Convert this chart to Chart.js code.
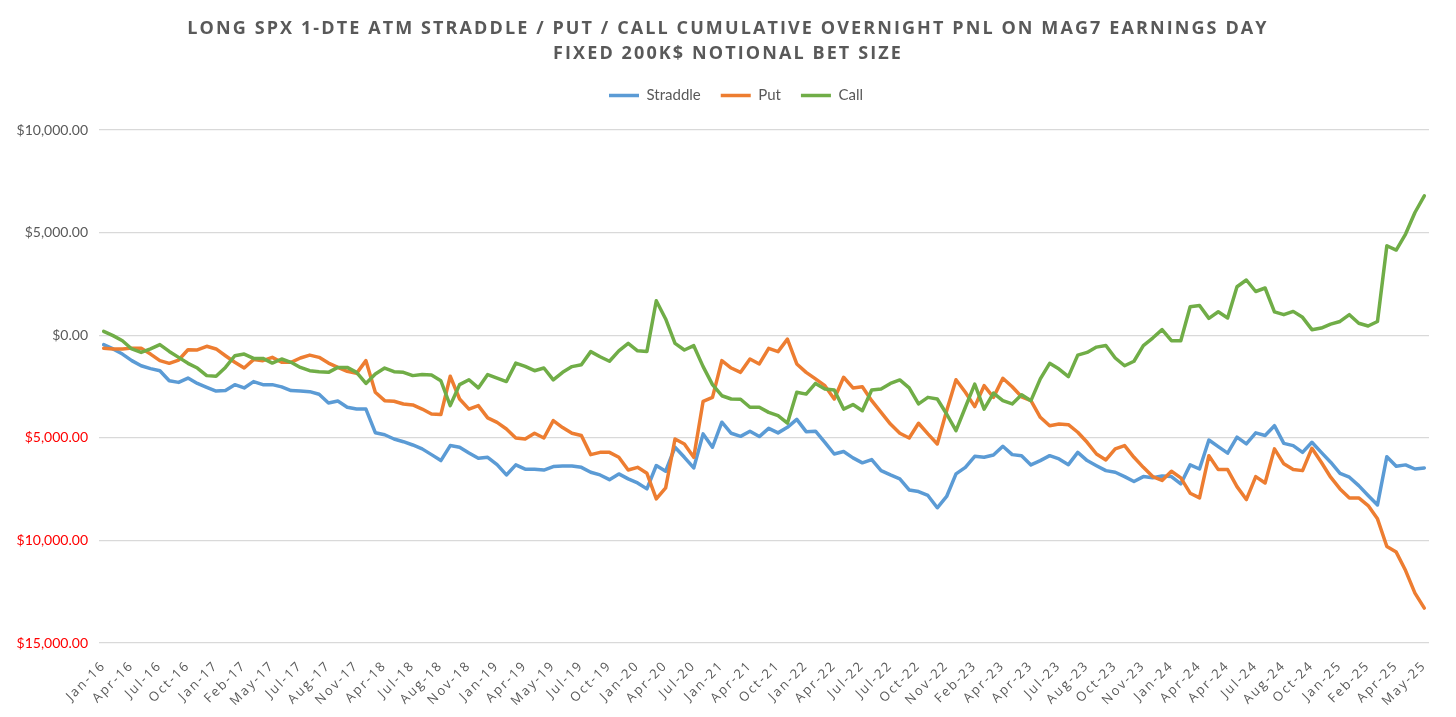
<!DOCTYPE html>
<html>
<head>
<meta charset="utf-8">
<title>Mag7 earnings overnight PnL</title>
<script src="https://cdn.jsdelivr.net/npm/chart.js@4.4.0/dist/chart.umd.min.js"></script>
<style>
    html, body { margin: 0; padding: 0; background: #fff; }
    #wrap { position: relative; width: 1456px; height: 717px; }
    #myChart { position: absolute; left: 0; top: 0; }
    #title {
        position: absolute; top: 15px; left: 0; width: 100%;
        text-align: center;
        font-family: 'Open Sans', sans-serif;
        font-weight: 700;
        font-size: 18px;
        line-height: 25px;
        letter-spacing: 2.1px;
        color: #595959;
        z-index: 2;
    }
</style>
</head>
<body>
<div id="wrap">
    <canvas id="myChart" width="1456" height="717"></canvas>
    <div id="title">LONG SPX 1-DTE ATM STRADDLE / PUT / CALL CUMULATIVE OVERNIGHT PNL ON MAG7 EARNINGS DAY<br>FIXED 200K$ NOTIONAL BET SIZE</div>
</div>
<script>
// Axis labels shown under every third earnings event
const tickLabels = ['Jan-16', 'Apr-16', 'Jul-16', 'Oct-16', 'Jan-17', 'Feb-17', 'May-17', 'Jul-17',
    'Aug-17', 'Nov-17', 'Apr-18', 'Jul-18', 'Aug-18', 'Nov-18', 'Jan-19', 'Apr-19',
    'May-19', 'Jul-19', 'Oct-19', 'Jan-20', 'Apr-20', 'Jul-20', 'Jan-21', 'Apr-21',
    'Oct-21', 'Jan-22', 'Apr-22', 'Jul-22', 'Jul-22', 'Oct-22', 'Nov-22', 'Feb-23',
    'Apr-23', 'Apr-23', 'Jul-23', 'Aug-23', 'Oct-23', 'Nov-23', 'Jan-24', 'Apr-24',
    'Apr-24', 'Jul-24', 'Aug-24', 'Oct-24', 'Jan-25', 'Feb-25', 'Apr-25', 'May-25'];

// Cumulative PnL ($) per earnings event
const straddle = [
    -460, -670, -920, -1240, -1490, -1630, -1730, -2220, -2300, -2090,
    -2350, -2540, -2720, -2690, -2410, -2570, -2260, -2410, -2410, -2520,
    -2700, -2720, -2750, -2880, -3300, -3210, -3510, -3600, -3600, -4750,
    -4850, -5060, -5190, -5350, -5540, -5820, -6110, -5380, -5460, -5740,
    -6000, -5950, -6310, -6810, -6320, -6530, -6530, -6570, -6400, -6370,
    -6370, -6440, -6680, -6810, -7040, -6760, -7000, -7200, -7490, -6350,
    -6630, -5460, -5950, -6470, -4810, -5460, -4240, -4780, -4930, -4680,
    -4940, -4540, -4760, -4490, -4100, -4700, -4680, -5220, -5790, -5670,
    -5980, -6220, -6060, -6600, -6810, -7000, -7540, -7620, -7810, -8410,
    -7860, -6760, -6440, -5900, -5950, -5840, -5410, -5820, -5870, -6320,
    -6110, -5870, -6030, -6310, -5710, -6110, -6360, -6600, -6680, -6890,
    -7130, -6890, -6950, -6860, -6890, -7250, -6320, -6520, -5110, -5430,
    -5750, -4970, -5300, -4760, -4890, -4410, -5270, -5380, -5710, -5220,
    -5710, -6190, -6730, -6920, -7330, -7810, -8270, -5920, -6390, -6320,
    -6520, -6470
];
const put = [
    -640, -670, -670, -630, -640, -920, -1240, -1370, -1210, -710,
    -720, -540, -670, -1000, -1320, -1600, -1190, -1240, -1080, -1320,
    -1320, -1110, -970, -1080, -1360, -1570, -1760, -1860, -1240, -2780,
    -3190, -3220, -3350, -3400, -3600, -3840, -3870, -2000, -3110, -3600,
    -3430, -4030, -4250, -4570, -5010, -5060, -4780, -5010, -4160, -4500,
    -4780, -4890, -5820, -5710, -5710, -5950, -6570, -6440, -6730, -7980,
    -7440, -5060, -5300, -5950, -3220, -3030, -1240, -1600, -1810, -1160,
    -1400, -640, -800, -190, -1400, -1810, -2130, -2460, -3110, -2050,
    -2570, -2510, -3190, -3760, -4330, -4780, -5010, -4290, -4810, -5300,
    -3680, -2170, -2780, -3480, -2460, -3030, -2100, -2510, -3000, -3190,
    -4000, -4410, -4330, -4360, -4730, -5220, -5790, -6080, -5540, -5380,
    -5950, -6440, -6890, -7080, -6630, -6950, -7700, -7930, -5870, -6550,
    -6550, -7380, -8010, -6890, -7200, -5540, -6270, -6550, -6600, -5510,
    -6190, -6920, -7490, -7930, -7930, -8300, -8950, -10300, -10570, -11470,
    -12570, -13300
];
const call = [
    190, -20, -270, -670, -840, -670, -460, -790, -1080, -1370,
    -1600, -1970, -2000, -1570, -1000, -920, -1130, -1130, -1360, -1160,
    -1320, -1570, -1730, -1780, -1810, -1570, -1570, -1810, -2350, -1890,
    -1600, -1780, -1810, -1970, -1920, -1940, -2220, -3430, -2410, -2170,
    -2570, -1920, -2090, -2260, -1360, -1520, -1730, -1600, -2180, -1810,
    -1530, -1440, -800, -1050, -1270, -760, -400, -760, -790, 1680,
    790, -400, -720, -510, -1530, -2410, -2950, -3110, -3120, -3510,
    -3510, -3760, -3920, -4290, -2780, -2870, -2350, -2620, -2670, -3600,
    -3380, -3680, -2670, -2620, -2350, -2180, -2570, -3350, -3030, -3110,
    -3840, -4650, -3510, -2380, -3600, -2820, -3190, -3350, -2900, -3190,
    -2130, -1370, -1650, -2020, -970, -840, -580, -500, -1110, -1490,
    -1270, -510, -140, 270, -270, -270, 1390, 1450, 820, 1140,
    840, 2360, 2690, 2130, 2300, 1140, 1000, 1160, 870, 270,
    350, 540, 670, 1000, 580, 450, 670, 4360, 4150, 4930,
    5980, 6790
];

// one category per event, grouped under the label shown every third step
const categories = straddle.map((_, i) => tickLabels[Math.floor(i / 3)]);

const textGray = '#595959';
const gridColor = '#D9D9D9';
const lineWidth = 3.5;

function formatDollar(v) {
    return '$' + Math.abs(v).toLocaleString('en-US', { minimumFractionDigits: 2, maximumFractionDigits: 2 });
}

// Excel spreads the rotated category labels a bit, canvas needs letterSpacing for that
const spacedXLabels = {
    id: 'spacedXLabels',
    beforeDraw(chart) {
        const scale = chart.scales.x;
        if (scale._spaced) return;
        const orig = scale.drawLabels;
        scale.drawLabels = function (area) {
            this.ctx.save();
            this.ctx.letterSpacing = '2px';
            orig.call(this, area);
            this.ctx.restore();
        };
        scale._spaced = true;
    }
};

// extra room under the legend, and centre it on the whole canvas
const legendBox = {
    id: 'legendBox',
    beforeLayout(chart) {
        const lg = chart.legend;
        if (!lg || lg._grown) return;
        const fit = lg.fit;
        lg.fit = function () {
            fit.call(this);
            this.height += 17;
        };
        lg._grown = true;
    },
    afterLayout(chart) {
        const lg = chart.legend;
        lg.left = 16;
        lg.right = chart.width;
        lg.width = lg.right - lg.left;
    }
};

const ctx = document.getElementById('myChart').getContext('2d');
const myChart = new Chart(ctx, {
    type: 'line',
    data: {
        labels: categories,
        datasets: [
            { label: 'Straddle', data: straddle, borderColor: '#5B9BD5', backgroundColor: '#5B9BD5', order: 2 },
            { label: 'Put', data: put, borderColor: '#ED7D31', backgroundColor: '#ED7D31', order: 1 },
            { label: 'Call', data: call, borderColor: '#70AD47', backgroundColor: '#70AD47', order: 0 }
        ]
    },
    options: {
        responsive: false,
        animation: false,
        layout: { padding: { top: 68, right: 27, bottom: 0, left: 0 } },
        elements: {
            line: { borderWidth: lineWidth, tension: 0, borderJoinStyle: 'round', borderCapStyle: 'round', fill: false },
            point: { radius: 0, hoverRadius: 0 }
        },
        plugins: {
            title: { display: false },
            tooltip: { enabled: false },
            legend: {
                display: true,
                position: 'top',
                labels: {
                    usePointStyle: true,
                    pointStyleWidth: 30,
                    padding: 20,
                    color: textGray,
                    font: { family: 'Lato', size: 15 },
                    generateLabels: chart => chart.data.datasets.map((ds, i) => ({
                        text: ds.label,
                        strokeStyle: ds.borderColor,
                        fillStyle: ds.borderColor,
                        lineWidth: lineWidth,
                        pointStyle: 'line',
                        fontColor: textGray,
                        hidden: false,
                        datasetIndex: i
                    }))
                }
            }
        },
        scales: {
            x: {
                offset: true,
                grid: { display: false, drawTicks: false },
                border: { display: false },
                ticks: {
                    autoSkip: false,
                    maxRotation: 45,
                    minRotation: 45,
                    padding: 15,
                    color: textGray,
                    font: { family: 'Open Sans', size: 13 },
                    callback: function (value, index) {
                        return index % 3 === 0 ? this.getLabelForValue(value) : '';
                    }
                },
                afterFit: s => { s.height = 74; }
            },
            y: {
                min: -15000,
                max: 10000,
                grid: { color: gridColor, lineWidth: 1.3, drawTicks: false },
                border: { display: false },
                ticks: {
                    stepSize: 5000,
                    padding: 11,
                    color: c => (c.tick && c.tick.value < 0 ? '#FF0000' : textGray),
                    font: { family: 'Lato', size: 14 },
                    callback: v => formatDollar(v)
                },
                afterFit: s => { s.width = 99; }
            }
        }
    },
    plugins: [spacedXLabels, legendBox]
});
</script>
</body>
</html>
